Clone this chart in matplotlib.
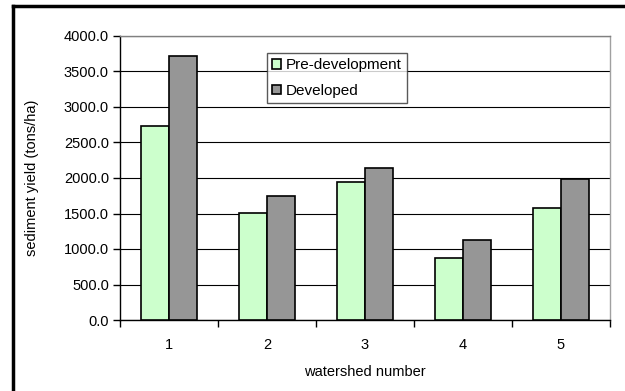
import matplotlib
matplotlib.use("Agg")
import matplotlib.pyplot as plt
from matplotlib.lines import Line2D
import numpy as np

plt.rcParams['font.family'] = ['Liberation Sans', 'DejaVu Sans']

watersheds = ["1", "2", "3", "4", "5"]
pre_development = [2730.0, 1505.0, 1940.0, 880.0, 1580.0]
developed = [3715.0, 1745.0, 2135.0, 1130.0, 1990.0]
y_ticks = [0, 500, 1000, 1500, 2000, 2500, 3000, 3500, 4000]

fig = plt.figure(figsize=(6.25, 3.91), dpi=100)
ax = fig.add_axes([120/625, 71/391, 490/625, 284/391])

x = np.arange(len(watersheds))
w = 0.286
ax.bar(x - w/2, pre_development, w, color='#CCFFCC', edgecolor='black',
       linewidth=1.2, label='Pre-development', zorder=3)
ax.bar(x + w/2, developed, w, color='#969696', edgecolor='black',
       linewidth=1.2, label='Developed', zorder=3)

ax.set_xlim(-0.5, len(watersheds) - 0.5)
ax.set_ylim(0, 4000)
ax.set_yticks(y_ticks)
ax.set_yticklabels([f"{v:.1f}" for v in y_ticks], fontsize=10.5)
ax.yaxis.grid(True, color='black', linewidth=0.8, zorder=0)
ax.set_axisbelow(True)

ax.set_xticks(x)
ax.set_xticklabels(watersheds, fontsize=10.5)
ax.set_xticks(np.arange(-0.5, len(watersheds)), minor=True)
ax.tick_params(axis='x', which='major', length=0, pad=13)
ax.tick_params(axis='x', which='minor', length=5, width=1, direction='out', color='black')
ax.tick_params(axis='y', length=5, width=1, direction='out', pad=3)

ax.spines['left'].set_color('black')
ax.spines['bottom'].set_color('black')
ax.spines['top'].set_color('#808080')
ax.spines['right'].set_color('#A0A0A0')
for s in ax.spines.values():
    s.set_linewidth(1.0)

ax.set_xlabel('watershed number', fontsize=10.5, labelpad=9)
ax.set_ylabel('sediment yield (tons/ha)', fontsize=10.5, labelpad=18)

leg = ax.legend(loc='upper left', bbox_to_anchor=(0.299, 0.94), borderaxespad=0,
                fontsize=11, frameon=True, fancybox=False, edgecolor='#303030',
                handlelength=0.6, handleheight=0.6, handletextpad=0.3,
                borderpad=0.35, labelspacing=0.75)
leg.get_frame().set_linewidth(1.0)

# chart area border (left and top edges)
fig.add_artist(Line2D([13/625, 13/625], [0, 1 - 6/391], color='black',
                      linewidth=2.5, transform=fig.transFigure))
fig.add_artist(Line2D([13/625, 1], [1 - 6/391, 1 - 6/391], color='black',
                      linewidth=2.5, transform=fig.transFigure))

fig.savefig('out.png', dpi=100)
